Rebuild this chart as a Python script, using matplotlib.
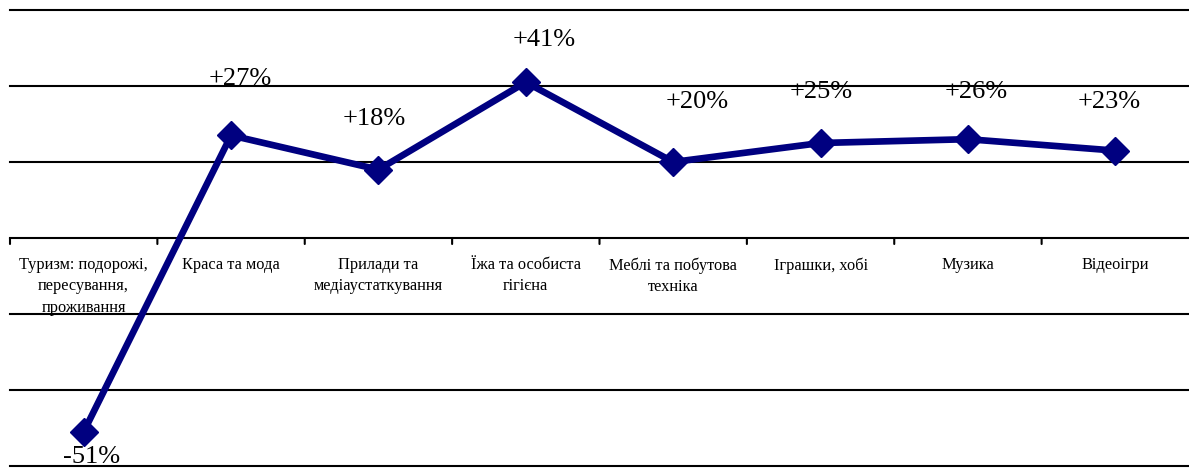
import matplotlib
matplotlib.use("Agg")
import matplotlib.pyplot as plt

plt.rcParams['font.family'] = ['Liberation Serif', 'DejaVu Serif']

categories = [
    "Туризм: подорожі,\nпересування,\nпроживання",
    "Краса та мода",
    "Прилади та\nмедіаустаткування",
    "Їжа та особиста\nгігієна",
    "Меблі та побутова\nтехніка",
    "Іграшки, хобі",
    "Музика",
    "Відеоігри",
]
changes = [-51, 27, 18, 41, 20, 25, 26, 23]
value_labels = ["-51%", "+27%", "+18%", "+41%", "+20%", "+25%", "+26%", "+23%"]

# label offsets from each point, in pixels (dx, dy)
label_offsets = [(8, -25), (9, 56), (-4, 51), (18, 42), (24, 60), (1, 51), (8, 47), (-6, 49)]

gridlines = [-60, -40, -20, 0, 20, 40, 60]

W, H, DPI = 1189, 468, 100
fig = plt.figure(figsize=(W / DPI, H / DPI), dpi=DPI)
ax = fig.add_axes([10 / W, 2 / H, 1 - 10 / W, 456 / H])
ax.set_xlim(-0.5, len(categories) - 0.5)
ax.set_ylim(-60, 60)
ax.axis('off')

for g in gridlines:
    ax.axhline(g, color='black', lw=1.5, zorder=1, clip_on=False)

# category boundary ticks on the zero axis
px = 72 / DPI
for b in range(len(categories)):
    ax.annotate('', xy=(b - 0.5, 0), xytext=(0, -6 * px), textcoords='offset points',
                arrowprops=dict(arrowstyle='-', color='black', lw=1.5,
                                shrinkA=0, shrinkB=0))

xs = list(range(len(categories)))
ax.plot(xs, changes, color='#000080', lw=4.8, marker='D', ms=14,
        mec='#000080', mfc='#000080', zorder=3, clip_on=False)

for x, name in zip(xs, categories):
    ax.annotate(name, xy=(x, 0), xytext=(0, -19 * px), textcoords='offset points',
                ha='center', va='top', fontsize=11.8, linespacing=1.45,
                multialignment='center', color='black', zorder=4)

for x, v, lab, (dx, dy) in zip(xs, changes, value_labels, label_offsets):
    ax.annotate(lab, xy=(x, v), xytext=(dx * px, dy * px), textcoords='offset points',
                ha='center', va='center', fontsize=19, color='black', zorder=4)

fig.savefig('out.png', dpi=DPI, facecolor='white')
